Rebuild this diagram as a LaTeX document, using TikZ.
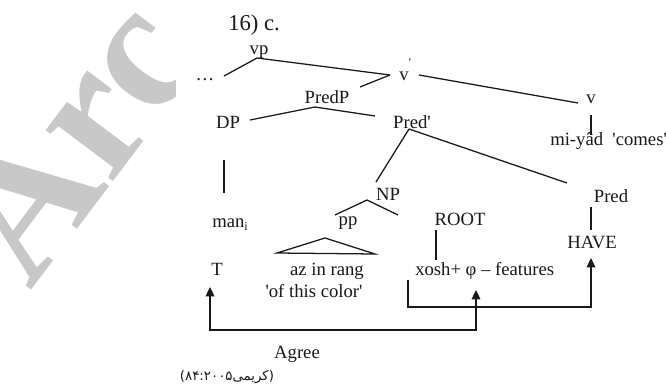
\documentclass[tikz,border=0pt]{standalone}
\usepackage{fontspec}
\newfontfamily\tfont{Liberation Serif}
\newfontfamily\wmfont{Liberation Serif}
\newfontfamily\arabicfont[Script=Arabic]{DejaVu Sans}
\TeXXeTstate=1
\usetikzlibrary{arrows.meta}
\definecolor{wmgray}{RGB}{200,200,200}
\definecolor{ink}{RGB}{25,25,25}
\tikzset{
  lab/.style={inner sep=0pt, anchor=base, text=ink, font=\tfont\fontsize{14}{16}\selectfont},
  branch/.style={draw=ink, line width=0.95pt},
  agreearrow/.style={draw=ink, line width=0.95pt},
  agreetip/.tip={Triangle[length=7pt,width=6.5pt]}
}
\begin{document}
\begin{tikzpicture}[x=0.75pt,y=-0.75pt]
\useasboundingbox[fill=white] (0,0) rectangle (666,389);
% watermark
\begin{scope}
\clip (0,0) rectangle (175,389);
\node[inner sep=0pt, anchor=base west, rotate=53, text=wmgray,
      font=\wmfont\bfseries\fontsize{138}{138}\selectfont] (wm) at (30,292) {Arc};
\end{scope}
% title
\node[lab, anchor=base west, font=\tfont\fontsize{17}{19}\selectfont] (title) at (228,30) {16) c.};
% nodes
\node[lab] (vp) at (259,54) {vp};
\node[lab] (dots) at (205,80) {\ldots};
\node[lab] (vbar) at (404,80) {v};
\node[lab, font=\tfont\fontsize{9}{9}\selectfont] (vprime) at (410,66) {'};
\node[lab] (predp) at (327,103) {PredP};
\node[lab] (v) at (591,103) {v};
\node[lab, anchor=base west] (miyad) at (550,145) {mi-yâd\ \ 'comes'};
\node[lab] (dp) at (228,128) {DP};
\node[lab] (predbar) at (412,128) {Pred'};
\node[lab] (np) at (388,200) {NP};
\node[lab, anchor=base west] (man) at (212,227) {man\raisebox{-0.2em}{\fontsize{9}{9}\selectfont i}};
\node[lab] (pp) at (348,225) {pp};
\node[lab] (root) at (460,225) {ROOT};
\node[lab] (pred) at (611,202) {Pred};
\node[lab] (have) at (592,248) {HAVE};
\node[lab] (t) at (217,275) {T};
\node[lab] (azin) at (327,275) {az in rang};
\node[lab, anchor=base west] (xosh) at (415,275) {xosh+ φ – features};
\node[lab] (ofthis) at (314,297) {'of this color'};
\node[lab] (agree) at (297,358) {Agree};
\node[inner sep=0pt, anchor=base, text=ink, font=\arabicfont\fontsize{10}{12}\selectfont] (src) at (227,380)
  {\hbox{)}\hbox{۸۴:۲۰۰۵}\hbox{\beginR کریمی\endR}\hbox{(}};
% branch end points
\coordinate (a1) at (224,76);  \coordinate (a2) at (257,58);
\coordinate (b1) at (390,75);
\coordinate (c1) at (360,87);
\coordinate (d1) at (419,75);  \coordinate (d2) at (578,103);
\coordinate (e1) at (591,115); \coordinate (e2) at (591,135);
\coordinate (f0) at (315,107); \coordinate (f1) at (250,120); \coordinate (f2) at (375,116);
\coordinate (g0) at (409,129); \coordinate (g1) at (376,182); \coordinate (g2) at (567,183);
\coordinate (h1) at (224,160); \coordinate (h2) at (224,193);
\coordinate (i0) at (367,200); \coordinate (i1) at (335,215); \coordinate (i2) at (398,215);
\coordinate (tr0) at (325,238); \coordinate (tr1) at (277,253); \coordinate (tr2) at (375,254);
\coordinate (k1) at (436,230); \coordinate (k2) at (436,260);
\coordinate (l1) at (591,207); \coordinate (l2) at (591,230);
% branches
\draw[branch] (a1) -- (a2) -- (b1);
\draw[branch] (b1) -- (c1);
\draw[branch] (d1) -- (d2);
\draw[branch] (e1) -- (e2);
\draw[branch] (f1) -- (f0) -- (f2);
\draw[branch] (g0) -- (g1);
\draw[branch] (g0) -- (g2);
\draw[branch] (h1) -- (h2);
\draw[branch] (i1) -- (i0) -- (i2);
\draw[branch] (tr0) -- (tr1) -- (tr2) -- cycle;
\draw[branch] (k1) -- (k2);
\draw[branch] (l1) -- (l2);
% agree arrows
\coordinate (ttip) at (210,287); \coordinate (tcorner) at (210,330);
\coordinate (xcorner) at (476,330); \coordinate (xtip) at (476,290);
\coordinate (rstart) at (408,280); \coordinate (rcorner) at (408,307);
\coordinate (hcorner) at (591,307); \coordinate (htip) at (591,258);
\draw[agreearrow, agreetip-agreetip] (ttip) -- (tcorner) -- (xcorner) -- (xtip);
\draw[agreearrow, -agreetip] (rstart) -- (rcorner) -- (hcorner) -- (htip);
\end{tikzpicture}
\end{document}
